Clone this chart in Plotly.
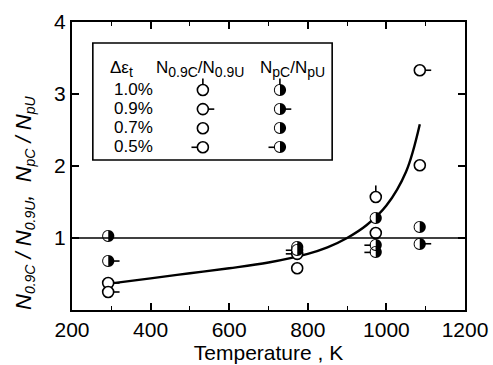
import plotly.graph_objects as go

# ---------------- data ----------------
# Open circles: N0.9C / N0.9U
T_open_10 = [973]
R_open_10 = [1.57]
T_open_09 = [292, 292, 1085]
R_open_09 = [0.375, 0.25, 3.33]
T_open_07 = [773, 973, 1085]
R_open_07 = [0.58, 1.07, 2.01]
T_open_05 = [773]
R_open_05 = [0.78]

# Half-filled circles: NpC / NpU
T_half_09 = [292, 1085]
R_half_09 = [0.68, 0.92]
T_half_07 = [292, 773, 973, 1085]
R_half_07 = [1.03, 0.88, 1.28, 1.15]
T_half_05 = [773, 973, 973]
R_half_05 = [0.83, 0.90, 0.80]

# fitted curve
T_fit = [300, 400, 500, 600, 700, 800, 850, 900, 950, 1000, 1050, 1085]
R_fit = [0.37, 0.44, 0.51, 0.58, 0.66, 0.78, 0.87, 1.0, 1.18, 1.45, 1.92, 2.58]

x_ticks = [200, 400, 600, 800, 1000, 1200]
y_ticks = [1, 2, 3, 4]

legend_rows = ["1.0%", "0.9%", "0.7%", "0.5%"]

# ---------------- style ----------------
FONT = "Liberation Sans, Arial, sans-serif"
HT = 29      # horizontal tick length (K)
VT = 0.16    # vertical tick length
MS = 11

fig = go.Figure()

fig.add_trace(go.Scatter(x=T_fit, y=R_fit, mode="lines", line=dict(color="black", width=2.4, shape="spline"),
                         showlegend=False, hoverinfo="skip"))


def tick_kw(kind, n):
    kw = {}
    if kind == "up":
        kw["error_y"] = dict(type="data", symmetric=False, array=[VT] * n, arrayminus=[0] * n,
                             color="black", thickness=1.6, width=0)
    elif kind == "right":
        kw["error_x"] = dict(type="data", symmetric=False, array=[HT] * n, arrayminus=[0] * n,
                             color="black", thickness=1.6, width=0)
    elif kind == "left":
        kw["error_x"] = dict(type="data", symmetric=False, array=[0] * n, arrayminus=[HT] * n,
                             color="black", thickness=1.6, width=0)
    return kw


def add_open(xs, ys, kind):
    fig.add_trace(go.Scatter(x=xs, y=ys, mode="markers",
                             marker=dict(symbol="circle", size=MS, color="white",
                                         line=dict(color="black", width=1.6)),
                             showlegend=False, hoverinfo="skip", cliponaxis=False, **tick_kw(kind, len(xs))))


def add_half(xs, ys, kind):
    fig.add_trace(go.Scatter(x=xs, y=ys, mode="markers+text", text=["\u25d1"] * len(xs),
                             textposition="middle center",
                             textfont=dict(family="DejaVu Sans", size=16, color="black"),
                             marker=dict(symbol="circle", size=MS - 1, color="white", line=dict(width=0)),
                             showlegend=False, hoverinfo="skip", cliponaxis=False, **tick_kw(kind, len(xs))))


add_open(T_open_10, R_open_10, "up")
add_open(T_open_09, R_open_09, "right")
add_open(T_open_07, R_open_07, "none")
add_open(T_open_05, R_open_05, "left")
add_half(T_half_09, R_half_09, "right")
add_half(T_half_07, R_half_07, "none")
add_half(T_half_05, R_half_05, "left")

# ---------------- legend (drawn as a table) ----------------
leg_T_open = 533
leg_T_half = 729
leg_R = [3.055, 2.79, 2.525, 2.26]
kinds = ["up", "right", "none", "left"]
for r, k in zip(leg_R, kinds):
    add_open([leg_T_open], [r], k)
    add_half([leg_T_half], [r], k)

fig.add_shape(type="rect", xref="paper", yref="paper", x0=0.053, x1=0.662, y0=0.521, y1=0.927,
              line=dict(color="black", width=1.6), fillcolor="rgba(0,0,0,0)")
fig.add_shape(type="line", xref="paper", yref="y", x0=0, x1=1, y0=1, y1=1,
              line=dict(color="black", width=1.6))

LF = dict(family=FONT, size=17, color="black")
SUB = "<sub><span style='font-size:14px'>%s</span></sub>"
fig.add_annotation(xref="paper", yref="paper", x=0.092, y=0.837, text="\u0394\u03b5" + SUB % "t",
                   showarrow=False, xanchor="left", yanchor="middle", font=LF)
fig.add_annotation(xref="paper", yref="paper", x=0.326, y=0.837,
                   text="N" + SUB % "0.9C" + "/N" + SUB % "0.9U",
                   showarrow=False, xanchor="center", yanchor="middle", font=LF)
fig.add_annotation(xref="paper", yref="paper", x=0.56, y=0.837,
                   text="N" + SUB % "pC" + "/N" + SUB % "pU",
                   showarrow=False, xanchor="center", yanchor="middle", font=LF)
for lab, yp in zip(legend_rows, [0.764, 0.698, 0.632, 0.566]):
    fig.add_annotation(xref="paper", yref="paper", x=0.102, y=yp, text=lab,
                       showarrow=False, xanchor="left", yanchor="middle", font=LF)

# y-axis title as rotated annotation (placed like the reference, below centre)
fig.add_annotation(xref="paper", yref="paper", x=-0.12, y=0.371, textangle=-90,
                   text="<i>N" + SUB % "0.9C" + " / N" + SUB % "0.9U" + ",  N" + SUB % "pC" + " / N" + SUB % "pU" + "</i>",
                   showarrow=False, xanchor="center", yanchor="middle",
                   font=dict(family=FONT, size=22, color="black"))

# ---------------- layout ----------------
fig.update_layout(
    width=493, height=365,
    margin=dict(l=72, r=28, t=22, b=55, autoexpand=False),
    paper_bgcolor="white", plot_bgcolor="white",
    font=dict(family=FONT, size=21, color="black"),
    xaxis=dict(range=[200, 1200], tickvals=x_ticks, ticktext=[str(v) for v in x_ticks],
               ticks="inside", ticklen=7, tickwidth=1.6, tickcolor="black", automargin=False,
               minor=dict(dtick=100, tick0=200, ticks="inside", ticklen=4, tickwidth=1.3, tickcolor="black"),
               showline=True, linecolor="black", linewidth=2, mirror="ticks", showgrid=False, zeroline=False,
               title=dict(text="Temperature , K", font=dict(size=21), standoff=4)),
    yaxis=dict(range=[0, 4], tickvals=y_ticks, ticktext=[str(v) for v in y_ticks],
               ticks="inside", ticklen=7, tickwidth=1.6, tickcolor="black", automargin=False,
               showline=True, linecolor="black", linewidth=2, mirror="ticks", showgrid=False, zeroline=False),
)

post = ("document.body.style.margin='0';"
        "document.querySelectorAll('g.textpoint text').forEach(function(e){e.style.filter='grayscale(1)';});")
fig.write_html("out.html", post_script=post, config={"displayModeBar": False})
